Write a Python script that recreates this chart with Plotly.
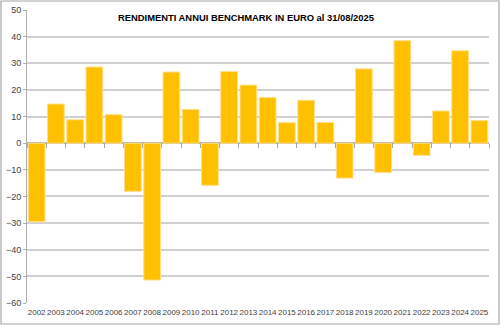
import plotly.graph_objects as go

years = [str(y) for y in range(2002, 2026)]
returns = [-29.5, 14.7, 8.8, 28.6, 10.7, -18.1, -51.4, 26.7, 12.7, -15.8, 26.9, 21.8,
           17.2, 7.7, 16.1, 7.8, -13.1, 27.9, -11.0, 38.5, -4.6, 12.1, 34.7, 8.5]
title = "RENDIMENTI ANNUI BENCHMARK IN EURO al 31/08/2025"
y_min, y_max = -60, 50

W, H = 500, 325
ml, mr, mt, mb = 27, 11, 10, 22
pw, ph = W - ml - mr, H - mt - mb

fig = go.Figure()
fig.add_trace(go.Bar(x=years, y=returns, marker=dict(color="#FFC000", line=dict(color="#FFE08A", width=1)),
                     showlegend=False))
fig.add_trace(go.Scatter(x=years, y=[None]*len(years), xaxis="x2", showlegend=False, hoverinfo="skip"))

font = "Liberation Sans, Arial, sans-serif"
fig.update_layout(
    width=W, height=H,
    margin=dict(l=ml, r=mr, t=mt, b=mb, autoexpand=False),
    paper_bgcolor="white", plot_bgcolor="white",
    bargap=0.13,
    font=dict(family=font, size=9, color="#404040"),
    xaxis=dict(type="category", showgrid=False, showline=False, ticks="", tickangle=0, automargin=False,
               tickfont=dict(size=8, color="#404040"), ticklabelstandoff=3),
    xaxis2=dict(type="category", overlaying="x", matches="x", anchor="free",
                position=(0 - y_min) / (y_max - y_min), showticklabels=False,
                ticks="outside", tickson="boundaries", ticklen=4, tickcolor="#A6A6A6",
                showline=False, showgrid=False),
    yaxis=dict(range=[y_min, y_max], dtick=10, showgrid=True, gridcolor="#D0D0D0", gridwidth=1.5,
               zeroline=True, zerolinecolor="#B0B0B0", zerolinewidth=1.5, automargin=False,
               showline=True, linecolor="#B0B0B0", linewidth=1,
               ticks="outside", ticklen=3, tickcolor="#B0B0B0",
               tickfont=dict(size=9, color="#404040")),
    shapes=[dict(type="rect", xref="paper", yref="paper",
                 x0=(1 - ml) / pw, x1=(W - 1 - ml) / pw,
                 y0=(H - mb - (H - 1)) / ph, y1=(H - mb - 1) / ph,
                 line=dict(color="#A6A6A6", width=1.2), fillcolor="rgba(0,0,0,0)", layer="above")],
    annotations=[dict(text="<b>" + title + "</b>", xref="paper", yref="paper",
                      x=(246 - ml) / pw, y=(H - mb - 18) / ph, xanchor="center", yanchor="middle",
                      showarrow=False, font=dict(size=9.4, color="#000000", family=font))],
)

fig.write_html("out.html")
